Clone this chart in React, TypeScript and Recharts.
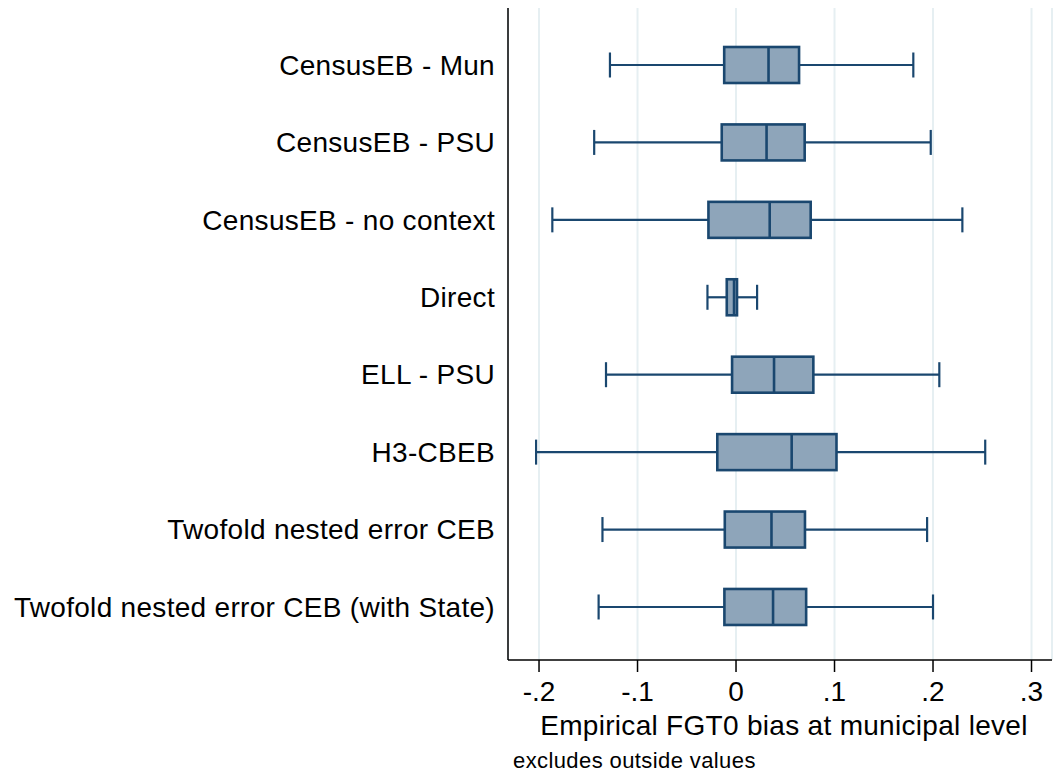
import { ComposedChart, Bar, XAxis, YAxis, CartesianGrid } from 'recharts';

const categories = [
    'CensusEB - Mun',
    'CensusEB - PSU',
    'CensusEB - no context',
    'Direct',
    'ELL - PSU',
    'H3-CBEB',
    'Twofold nested error CEB',
    'Twofold nested error CEB (with State)',
];
const lowerWhisker = [-0.128, -0.144, -0.1865, -0.029, -0.132, -0.203, -0.1356, -0.1395];
const q1 = [-0.012, -0.0145, -0.028, -0.0094, -0.004, -0.019, -0.0114, -0.0118];
const median = [0.033, 0.031, 0.0342, -0.002, 0.0386, 0.0565, 0.036, 0.0376];
const q3 = [0.064, 0.0697, 0.0758, 0.001, 0.0785, 0.102, 0.07, 0.0712];
const upperWhisker = [0.18, 0.1977, 0.2298, 0.0214, 0.2064, 0.253, 0.194, 0.2];
const xTicks = [-0.2, -0.1, 0, 0.1, 0.2, 0.3];

const data = categories.map((name, i) => ({
    name,
    lo: lowerWhisker[i],
    q1: q1[i],
    med: median[i],
    q3: q3[i],
    hi: upperWhisker[i],
}));

const NAVY = '#1a476f';
const FILL = '#8ea5ba';

const fmt = (v: number) => (v === 0 ? '0' : v.toFixed(1).replace('0.', '.'));

function BoxShape(props: any) {
    const { x, y, width, height, payload } = props;
    const { lo, hi } = payload;
    const px = (v: number) => x + ((v - lo) / (hi - lo)) * width;
    const cy = y + height / 2;
    const cap = 25;
    return (
        <g>
            <line x1={px(lo)} x2={px(payload.q1)} y1={cy} y2={cy} stroke={NAVY} strokeWidth={2.2} />
            <line x1={px(payload.q3)} x2={px(hi)} y1={cy} y2={cy} stroke={NAVY} strokeWidth={2.2} />
            <line x1={px(lo)} x2={px(lo)} y1={cy - cap / 2} y2={cy + cap / 2} stroke={NAVY} strokeWidth={2.2} />
            <line x1={px(hi)} x2={px(hi)} y1={cy - cap / 2} y2={cy + cap / 2} stroke={NAVY} strokeWidth={2.2} />
            <rect
                x={px(payload.q1)}
                y={y}
                width={px(payload.q3) - px(payload.q1)}
                height={height}
                fill={FILL}
                stroke={NAVY}
                strokeWidth={2.6}
            />
            <line x1={px(payload.med)} x2={px(payload.med)} y1={y} y2={y + height} stroke={NAVY} strokeWidth={2.6} />
        </g>
    );
}

function AxisTitle(props: any) {
    const { viewBox } = props;
    const cx = viewBox.x + viewBox.width / 2;
    return (
        <g>
            <text x={cx + 4} y={viewBox.y + 75} textAnchor="middle" fontSize={28} letterSpacing={0.3} fill="#000">
                Empirical FGT0 bias at municipal level
            </text>
            <text x={513} y={viewBox.y + 108} fontSize={22} letterSpacing={0.4} fill="#000">
                excludes outside values
            </text>
        </g>
    );
}

export default function App() {
    return (
        <div style={{ position: 'absolute', left: 0, top: 0, width: 1053, height: 772, background: '#fff', fontFamily: 'Liberation Sans, Arial, sans-serif' }}>
            <ComposedChart
                width={1053}
                height={772}
                data={data}
                layout="vertical"
                margin={{ top: 8, right: 1, bottom: 0, left: 0 }}
            >
                <CartesianGrid horizontal={false} vertical stroke="#e6eff2" strokeWidth={2} />
                <XAxis
                    type="number"
                    domain={[-0.2315, 0.3208]}
                    allowDataOverflow
                    ticks={xTicks}
                    tickFormatter={fmt}
                    height={112}
                    tickSize={12}
                    tickMargin={9}
                    axisLine={{ stroke: '#000', strokeWidth: 1.5 }}
                    tickLine={{ stroke: '#000', strokeWidth: 1.5 }}
                    tick={{ fontSize: 28, fill: '#000' }}
                    label={<AxisTitle />}
                />
                <YAxis
                    type="category"
                    dataKey="name"
                    width={508}
                    padding={{ top: 18, bottom: 14.6 }}
                    tickLine={false}
                    tickSize={6}
                    tickMargin={7}
                    axisLine={{ stroke: '#000', strokeWidth: 1.5 }}
                    tick={{ fontSize: 28, fill: '#000', letterSpacing: 0.3 }}
                    interval={0}
                />
                <Bar
                    dataKey={(d: any) => [d.lo, d.hi]}
                    barSize={36}
                    shape={<BoxShape />}
                    isAnimationActive={false}
                />
            </ComposedChart>
        </div>
    );
}
